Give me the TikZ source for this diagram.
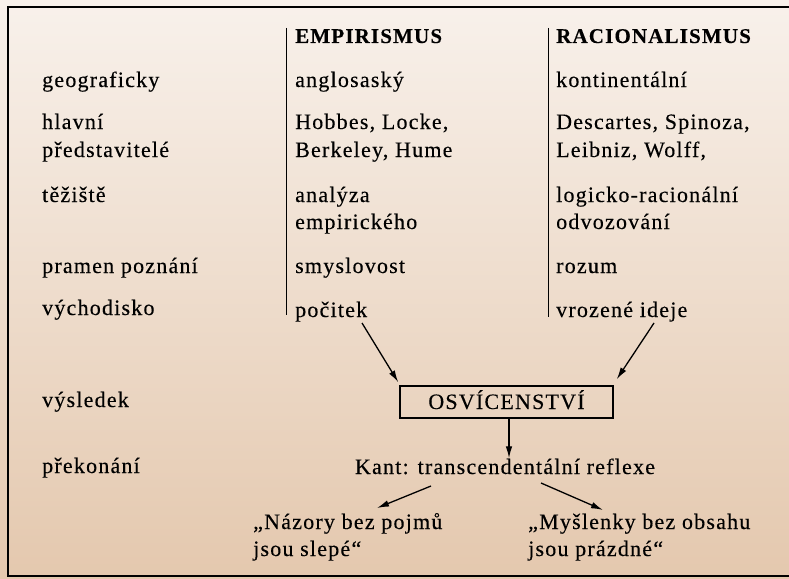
\documentclass[tikz,border=0pt]{standalone}
\usepackage{fontspec}
\setmainfont{Liberation Serif}[LetterSpace=5.5,FakeBold=0.25]
\usetikzlibrary{arrows.meta,calc}
\definecolor{bgtop}{RGB}{248,241,235}
\definecolor{bgbot}{RGB}{228,200,174}
\begin{document}
\begin{tikzpicture}[x=1pt,y=-1pt,
  txt/.style={anchor=base west,inner sep=0pt,font=\fontsize{22}{27}\selectfont},
  hdr/.style={anchor=base west,inner sep=0pt,font=\fontsize{21}{27}\selectfont\bfseries},
  arr/.style={-{Latex[length=12pt,width=6.5pt]},line width=1.3pt},
  sepline/.style={line width=1.5pt},
  boxnode/.style={draw,line width=1.5pt,minimum width=213pt,minimum height=32pt,inner sep=0pt,
    text height=14pt,text depth=0pt,font=\fontsize{22}{27}\selectfont}]
\useasboundingbox (0,0) rectangle (789,578);
\shade[top color=bgtop,bottom color=bgbot] (0,0) rectangle (789,578);
% frame
\draw[line width=2pt] (795,7) -- (8,7) -- (8,576) -- (795,576);
% separators
\coordinate (s1t) at (286.5,28); \coordinate (s1b) at (286.5,315);
\coordinate (s2t) at (548.5,28); \coordinate (s2b) at (548.5,317);
\draw[sepline] (s1t) -- (s1b);
\draw[sepline] (s2t) -- (s2b);
% headers
\node[hdr] (emp) at (295,43) {EMPIRISMUS};
\node[hdr] (rac) at (556,43) {RACIONALISMUS};
% left column
\node[txt] (geo) at (42,87) {geograficky};
\node[txt] (hl1) at (42,129) {hlavní};
\node[txt] (hl2) at (42,157) {představitelé};
\node[txt] (tez) at (42,202) {těžiště};
\node[txt] (pra) at (42,273) {pramen poznání};
\node[txt] (vych) at (42,315) {východisko};
\node[txt] (vys) at (42,407) {výsledek};
\node[txt] (prek) at (42,473) {překonání};
% empirismus column
\node[txt] (e1) at (295,87) {anglosaský};
\node[txt] (e2a) at (295,129) {Hobbes, Locke,};
\node[txt] (e2b) at (295,157) {Berkeley, Hume};
\node[txt] (e3a) at (295,202) {analýza};
\node[txt] (e3b) at (295,229) {empirického};
\node[txt] (e4) at (295,273) {smyslovost};
\node[txt] (pocitek) at (295,317) {počitek};
% racionalismus column
\node[txt] (r1) at (556,87) {kontinentální};
\node[txt] (r2a) at (556,129) {Descartes, Spinoza,};
\node[txt] (r2b) at (556,157) {Leibniz, Wolff,};
\node[txt] (r3a) at (556,202) {logicko-racionální};
\node[txt] (r3b) at (556,229) {odvozování};
\node[txt] (r4) at (556,273) {rozum};
\node[txt] (vroz) at (556,317) {vrozené ideje};
% result
\node[boxnode] (osv) at (506.5,402) {OSVÍCENSTVÍ};
\node[txt,anchor=base] (kant) at (505,474) {Kant: transcendentální reflexe};
\node[txt] (q1a) at (253,529) {„Názory bez pojmů};
\node[txt] (q1b) at (253,556) {jsou slepé“};
\node[txt] (q2a) at (528,529) {„Myšlenky bez obsahu};
\node[txt] (q2b) at (528,556) {jsou prázdné“};
% arrows
\coordinate (a1) at (362,323);
\coordinate (a2) at (654,323);
\draw[arr] (a1) -- ($(osv.north west)+(-1,-3)$);
\draw[arr] (a2) -- ($(osv.north east)+(3,-6)$);
\coordinate (vtop) at ($(osv.south)+(2.5,0)$);
\draw[arr] (vtop) -- (vtop |- kant.north);
\coordinate (k1s) at (431,486); \coordinate (k1e) at (377,508);
\coordinate (k2s) at (541,483); \coordinate (k2e) at (603,510);
\draw[arr] (k1s) -- (k1e);
\draw[arr] (k2s) -- (k2e);
\end{tikzpicture}
\end{document}
